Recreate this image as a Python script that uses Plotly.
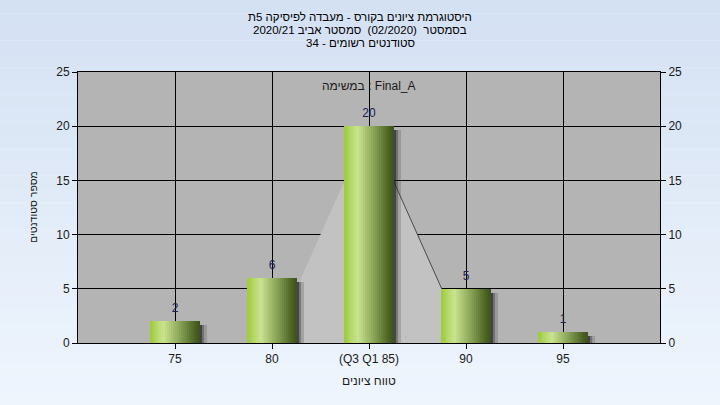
import plotly.graph_objects as go

# ---- data ----
categories = [75, 80, 85, 90, 95]
tick_labels = ["75", "80", "(Q3 Q1 85)", "90", "95"]
counts = [2, 6, 20, 5, 1]
tri_x = [80, 85, 90]
tri_y = [0, 20, 0]

title_lines = [
    "היסטוגרמת ציונים בקורס - מעבדה לפיסיקה 5ת",
    "בסמסטר  (02/2020)  סמסטר אביב 2020/21",
    "סטודנטים רשומים - 34",
]
task_label = "במשימה : Final_A"
x_title = "טווח ציונים"
y_title = "מספר סטודנטים"

FONT = "Liberation Sans, DejaVu Sans, Arial, sans-serif"

# ---- figure ----
W, H = 720, 405
ml, mr, mt, mb = 78, 60, 72, 62
ph = H - mt - mb
pw = W - ml - mr

def py(pix):  # pixel y -> paper y
    return (H - mb - pix) / ph

def px(pix):
    return (pix - ml) / pw

fig = go.Figure()

bw = 2.62  # bar width in x units

# shadows
for off, col in [(0.32, "rgba(60,60,60,0.22)"), (0.2, "rgba(40,40,40,0.35)"), (0.1, "rgba(30,30,30,0.55)")]:
    fig.add_trace(go.Bar(x=categories, y=[max(v - 0.35, 0) for v in counts],
                         width=bw, offset=-bw / 2 + off,
                         marker=dict(color=col, line=dict(width=0)),
                         hoverinfo="skip", showlegend=False))

# gradient bars built from strips
stops = [(0.0, (156, 202, 60)), (0.28, (202, 228, 142)), (0.58, (140, 166, 90)),
         (0.9, (72, 94, 32)), (1.0, (62, 82, 28))]

def grad(t):
    for (t0, c0), (t1, c1) in zip(stops[:-1], stops[1:]):
        if t0 <= t <= t1:
            f = (t - t0) / (t1 - t0)
            return "rgb(%d,%d,%d)" % tuple(round(a + (b - a) * f) for a, b in zip(c0, c1))
    return "rgb(%d,%d,%d)" % stops[-1][1]

N = 26
sw = bw / N
for i in range(N):
    fig.add_trace(go.Bar(x=categories, y=counts, width=sw * 1.15 if i < N - 1 else sw,
                         offset=-bw / 2 + i * sw,
                         marker=dict(color=grad((i + 0.5) / N), line=dict(width=0)),
                         hoverinfo="skip", showlegend=False))

# value labels
fig.add_trace(go.Scatter(x=categories, y=counts, mode="markers+text", text=[str(v) for v in counts],
                         textposition="top center", marker=dict(size=8, opacity=0),
                         textfont=dict(family=FONT, size=12, color="#1c2050"),
                         hoverinfo="skip", showlegend=False))

# invisible trace for right axis
fig.add_trace(go.Scatter(x=[categories[0]], y=[0], yaxis="y2", mode="markers",
                         marker=dict(opacity=0), hoverinfo="skip", showlegend=False))

# background bands (vertical gradient)
shapes = []
nb = 30
top_c = (212, 225, 243)
bot_c = (239, 245, 253)
y_top, y_bot = py(0), py(H)
for i in range(nb):
    f = i / (nb - 1)
    c = tuple(round(a + (b - a) * f) for a, b in zip(top_c, bot_c))
    y0 = y_top + (y_bot - y_top) * i / nb
    y1 = y_top + (y_bot - y_top) * (i + 1) / nb
    shapes.append(dict(type="rect", xref="paper", yref="paper", x0=px(0), x1=px(W),
                       y0=y0, y1=y1, fillcolor="rgb(%d,%d,%d)" % c,
                       line=dict(width=0), layer="below"))
shapes.append(dict(type="rect", xref="paper", yref="paper", x0=0, x1=1, y0=0, y1=1,
                   fillcolor="#b4b4b4", line=dict(width=0), layer="below"))

# light gray triangle (above grid, below bars)
tri_path = "M " + " L ".join("%g,%g" % (a, b) for a, b in zip(tri_x, tri_y)) + " Z"
shapes.append(dict(type="path", xref="x", yref="y", path=tri_path, fillcolor="#c2c2c2",
                   line=dict(width=0), layer="between"))
shapes.append(dict(type="line", xref="x", yref="y", x0=tri_x[1], y0=tri_y[1],
                   x1=tri_x[2], y1=tri_y[2], line=dict(color="#4a4a4a", width=1),
                   layer="between"))

annotations = []
for k, line in enumerate(title_lines):
    annotations.append(dict(text=line, xref="paper", yref="paper", x=px(360), y=py(17 + 13 * k),
                            xanchor="center", yanchor="middle", showarrow=False,
                            font=dict(family=FONT, size=11.5, color="#000000")))
annotations.append(dict(text=task_label, xref="paper", yref="paper", x=0.5, y=py(86),
                        xanchor="center", yanchor="middle", showarrow=False,
                        font=dict(family=FONT, size=12, color="#1a1a1a")))
annotations.append(dict(text=x_title, xref="paper", yref="paper", x=0.5, y=py(381),
                        xanchor="center", yanchor="middle", showarrow=False,
                        font=dict(family=FONT, size=12, color="#1a1a1a")))
annotations.append(dict(text=y_title, xref="paper", yref="paper", x=px(33), y=py(207),
                        xanchor="center", yanchor="middle", showarrow=False, textangle=-90,
                        font=dict(family=FONT, size=10.5, color="#1a1a1a")))

axis_font = dict(family=FONT, size=12, color="#1a1a1a")
fig.update_layout(
    width=W, height=H,
    margin=dict(l=ml, r=mr, t=mt, b=mb, pad=0),
    paper_bgcolor="rgb(239,245,253)",
    plot_bgcolor="rgba(0,0,0,0)",
    barmode="overlay",
    bargap=0,
    shapes=shapes,
    annotations=annotations,
    xaxis=dict(range=[70, 100], tickvals=categories, ticktext=tick_labels,
               showgrid=True, gridcolor="#000000", gridwidth=1, zeroline=False,
               showline=True, linecolor="#000000", linewidth=1, mirror=True,
               ticks="outside", ticklen=5, tickcolor="#000000", tickfont=axis_font),
    yaxis=dict(range=[0, 25], dtick=5, showgrid=True, gridcolor="#000000", gridwidth=1,
               zeroline=False, showline=True, linecolor="#000000", linewidth=1, mirror=True,
               ticks="outside", ticklen=5, tickcolor="#000000", tickfont=axis_font),
    yaxis2=dict(range=[0, 25], dtick=5, overlaying="y", side="right", showgrid=False,
                zeroline=False, showline=False, ticks="outside", ticklen=5,
                tickcolor="#000000", tickfont=axis_font),
    font=dict(family=FONT),
)

fig.write_html("out.html", config={"displayModeBar": False},
               post_script="document.body.style.margin='0';document.body.style.padding='0';")
